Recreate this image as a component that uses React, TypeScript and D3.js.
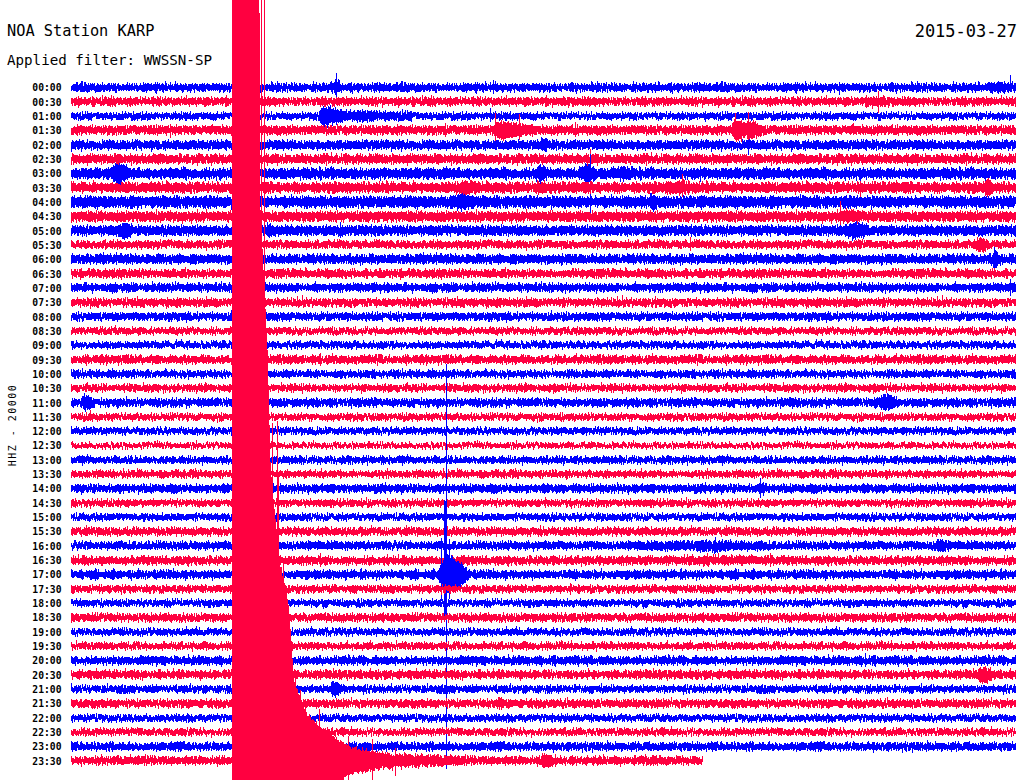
import React from "react";
import * as d3 from "d3";

const WIDTH = 1024;
const HEIGHT = 780;

const STATION_TITLE = "NOA Station KARP";
const FILTER_LABEL = "Applied filter: WWSSN-SP";
const DATE_LABEL = "2015-03-27";
const CHANNEL_LABEL = "HHZ - 20000";

// one trace row per half hour
const ROW_LABELS = [
  "00:00", "00:30", "01:00", "01:30", "02:00", "02:30", "03:00", "03:30",
  "04:00", "04:30", "05:00", "05:30", "06:00", "06:30", "07:00", "07:30",
  "08:00", "08:30", "09:00", "09:30", "10:00", "10:30", "11:00", "11:30",
  "12:00", "12:30", "13:00", "13:30", "14:00", "14:30", "15:00", "15:30",
  "16:00", "16:30", "17:00", "17:30", "18:00", "18:30", "19:00", "19:30",
  "20:00", "20:30", "21:00", "21:30", "22:00", "22:30", "23:00", "23:30",
];
const TRACE_COLORS = ["#0000ff", "#ff0040"];

// background noise half-amplitude per row (counts)
const ROW_NOISE = [
  3300, 3500, 3300, 4100, 4100, 3800, 4300, 4800,
  4800, 4300, 4300, 3500, 3800, 3800, 3500, 3500,
  3300, 3300, 3100, 3100, 3300, 3100, 3300, 3100,
  3100, 2900, 3100, 3100, 3100, 3100, 3100, 3100,
  3500, 3500, 3300, 3100, 3100, 3100, 3200, 3200,
  3300, 3300, 3300, 3200, 3200, 3200, 3200, 3300,
];
// minutes of data in the last (current) row
const LAST_ROW_END_MIN = 20.05;

// bursts: [row, start min, peak min, end min, peak amplitude (counts)]
const BURSTS: [number, number, number, number, number][] = [
  [0, 8.16, 8.41, 8.7, 6000],
  [0, 28.86, 29.6, 30, 5500],
  [1, 25.05, 25.62, 26.0, 5000],
  [2, 7.84, 8.0, 8.95, 10000],
  [2, 8.0, 8.6, 11.1, 5500],
  [3, 13.37, 13.62, 14.79, 9000],
  [3, 20.98, 21.08, 21.78, 10000],
  [3, 21.4, 21.49, 22.0, 10000],
  [4, 14.89, 15.0, 15.21, 7000],
  [6, 1.24, 1.49, 1.87, 11000],
  [6, 14.67, 14.9, 15.2, 8000],
  [6, 16.06, 16.41, 16.7, 10000],
  [6, 17.0, 17.5, 18.06, 6000],
  [7, 12.13, 12.5, 12.98, 6500],
  [7, 14.67, 14.9, 15.2, 5500],
  [7, 18.79, 19.3, 19.87, 6500],
  [7, 28.95, 29.1, 29.27, 9000],
  [8, 12.13, 12.4, 12.89, 8500],
  [8, 18.3, 18.5, 18.6, 9000],
  [8, 19.9, 20.05, 20.2, 6500],
  [9, 24.4, 24.6, 25.37, 6500],
  [10, 1.4, 1.7, 2.03, 8000],
  [10, 6.16, 6.3, 6.41, 7000],
  [10, 24.5, 24.9, 25.46, 8000],
  [11, 28.63, 28.9, 29.17, 7000],
  [12, 29.2, 29.35, 29.5, 9000],
  [22, 0.3, 0.45, 0.75, 8000],
  [22, 22.35, 22.7, 23.14, 5000],
  [22, 25.37, 25.9, 26.32, 8000],
  [28, 21.8, 21.9, 22.2, 6000],
  [32, 17.43, 20.44, 22.5, 5000],
  [32, 27.27, 27.6, 27.9, 6500],
  [33, 18.06, 20.0, 22.5, 4500],
  [34, 11.65, 11.9, 12.73, 21000],
  [41, 28.7, 29.0, 29.33, 8000],
  [42, 8.25, 8.29, 8.7, 9000],
  [43, 13.46, 13.6, 13.78, 6000],
  [47, 14.89, 15.05, 15.5, 7000],
];

// single spikes: [row, minute, up (counts), down (counts)]
const SPIKES: [number, number, number, number][] = [
  [0, 8.41, 13000, 12000], [0, 13.4, 8000, 8000], [0, 24.38, 6500, 6500], [0, 29.81, 12000, 6000],
  [1, 25.62, 10000, 10000],
  [2, 13.3, 6000, 6000],
  [3, 3.14, 5500, 5500], [3, 11.87, 6500, 6500], [3, 13.46, 15000, 10000], [3, 14.22, 15000, 10000],
  [3, 16.0, 6500, 6500], [3, 21.08, 17000, 10000], [3, 21.49, 20000, 12000], [3, 24.83, 8000, 6000],
  [4, 21.49, 5000, 9000], [4, 25.14, 6500, 6500],
  [5, 16.48, 9000, 5000], [5, 8.7, 5500, 5500],
  [6, 16.48, 20000, 10000], [6, 19.97, 6500, 6500], [6, 23.37, 7000, 7000], [6, 29.0, 6500, 6500],
  [7, 19.4, 13000, 7000], [7, 25.05, 10000, 10000],
  [8, 16.48, 10000, 10000], [8, 23.14, 6500, 6500],
  [9, 24.41, 16000, 11000],
  [10, 8.54, 8000, 8000],
  [11, 1.08, 5500, 5500], [11, 19.65, 6500, 6500],
  [12, 29.3, 11000, 11000],
  [13, 1.02, 6000, 6000],
  [14, 29.81, 8000, 8000],
  [15, 18.54, 6500, 6500],
  [17, 1.4, 5500, 5500],
  [19, 7.9, 6500, 6500],
  [23, 0.6, 6000, 6000],
  [28, 21.87, 8000, 8000],
  [29, 15.05, 6500, 6500],
  [31, 14.9, 5500, 5500],
  [32, 13.87, 6500, 6500], [32, 20.44, 8000, 8000],
  [33, 22.19, 8000, 8000], [33, 7.9, 6500, 6500], [33, 15.3, 5500, 5500],
  [34, 11.89, 209000, 196000],
  [34, 11.83, 74000, 41000], [34, 11.86, 74000, 41000], [34, 11.92, 74000, 41000],
  [34, 11.76, 34000, 25000], [34, 12.0, 34000, 25000],
  [35, 15.84, 5500, 5500],
  [40, 25.2, 8000, 8000],
  [42, 8.29, 9000, 9000], [42, 27.27, 5500, 5500],
  [47, 6.04, 800000, 800000], [47, 6.14, 800000, 800000], [47, 6.39, 340000, 340000],
  [47, 6.53, 340000, 340000], [47, 6.56, 290000, 290000], [47, 6.73, 200000, 200000],
  [47, 7.1, 83000, 83000], [47, 7.27, 70000, 70000], [47, 7.43, 55000, 55000],
  [47, 7.87, 52000, 52000], [47, 8.31, 25000, 25000], [47, 8.79, 25000, 25000],
  [47, 9.56, 20000, 20000], [47, 10.29, 14000, 14000],
];

// envelope of the large event in the 23:30 row
const QUAKE_MIN = [5.1, 5.11, 5.98, 6.0, 6.13, 6.24, 6.34, 6.63, 6.85, 6.95, 7.08, 7.27, 7.48, 8.06, 8.91, 10.18, 11.71, 12.67];
const QUAKE_AMP = [3000, 800000, 800000, 560000, 480000, 410000, 290000, 197000, 170000, 140000, 80000, 63000, 47000, 30000, 13000, 7000, 5000, 3500];

export default function App() {
  const x = d3.scaleLinear().domain([0, 30]).range([71, 1016]);
  const y = d3.scalePoint<string>().domain(ROW_LABELS).range([87.3, 760.7]);
  const amp = d3.scaleLinear().domain([0, 20000]).range([0, 20]);

  const lastRow = ROW_LABELS.length - 1;

  const rows = ROW_LABELS.map((label, i) => {
    const base = y(label) as number;
    const color = TRACE_COLORS[i % 2];
    const noise = ROW_NOISE[i];
    const end = i === lastRow ? LAST_ROW_END_MIN : 30;
    const area = d3
      .area<[number, number]>()
      .x((d) => x(d[0]))
      .y0((d) => base + amp(d[1]))
      .y1((d) => base - amp(d[1]));
    const bandPath = area([
      [0, noise],
      [end, noise],
    ]);
    const bursts = BURSTS.filter((b) => b[0] === i).map((b) =>
      area([
        [b[1], noise],
        [b[2], b[4]],
        [b[3], noise],
      ])
    );
    const quake =
      i === lastRow
        ? area(QUAKE_MIN.map((m, k) => [m, QUAKE_AMP[k]] as [number, number]))
        : null;
    const spikes = SPIKES.filter((s) => s[0] === i);
    return (
      <g key={label} fill={color} stroke="none">
        <path d={bandPath || ""} />
        {bursts.map((p, k) => (
          <path key={k} d={p || ""} />
        ))}
        {quake && <path d={quake} />}
        {spikes.map((s, k) => (
          <line
            key={"s" + k}
            x1={Math.round(x(s[1])) + 0.5}
            x2={Math.round(x(s[1])) + 0.5}
            y1={base - amp(s[2])}
            y2={base + amp(s[3])}
            stroke={color}
            strokeWidth={1}
          />
        ))}
      </g>
    );
  });

  return (
    <svg
      width={WIDTH}
      height={HEIGHT}
      style={{ position: "absolute", left: 0, top: 0, background: "#ffffff" }}
      fontFamily="'DejaVu Sans Mono', monospace"
    >
      <defs>
        <filter
          id="jag"
          filterUnits="userSpaceOnUse"
          x={0}
          y={-40}
          width={WIDTH}
          height={HEIGHT + 80}
          colorInterpolationFilters="sRGB"
        >
          <feTurbulence type="fractalNoise" baseFrequency="0.8 0.08" numOctaves={2} seed={7} result="t" />
          <feColorMatrix
            in="t"
            type="matrix"
            values="0 0 0 0 0.5  0 1 0 0 0  0 0 0 0 0  0 0 0 0 1"
            result="m"
          />
          <feDisplacementMap in="SourceGraphic" in2="m" scale={9} xChannelSelector="R" yChannelSelector="G" />
        </filter>
      </defs>
      <rect x={0} y={0} width={WIDTH} height={HEIGHT} fill="#ffffff" />
      <g filter="url(#jag)" shapeRendering="crispEdges">
        {rows}
      </g>
      <text x={7} y={36} fontSize={15.3} fill="#000">
        {STATION_TITLE}
      </text>
      <text x={7} y={65} fontSize={14.2} fill="#000">
        {FILTER_LABEL}
      </text>
      <text x={1017} y={36.5} fontSize={17} textAnchor="end" fill="#000">
        {DATE_LABEL}
      </text>
      {ROW_LABELS.map((label) => (
        <text
          key={label}
          x={61.5}
          y={(y(label) as number) + 4}
          fontSize={9.7}
          fontWeight="bold"
          textAnchor="end"
          fill="#000"
        >
          {label}
        </text>
      ))}
      <text
        transform="translate(16,425) rotate(-90)"
        fontSize={10}
        letterSpacing={1.5}
        textAnchor="middle"
        fill="#000"
        style={{ whiteSpace: "pre" }}
      >
        {CHANNEL_LABEL}
      </text>
    </svg>
  );
}
